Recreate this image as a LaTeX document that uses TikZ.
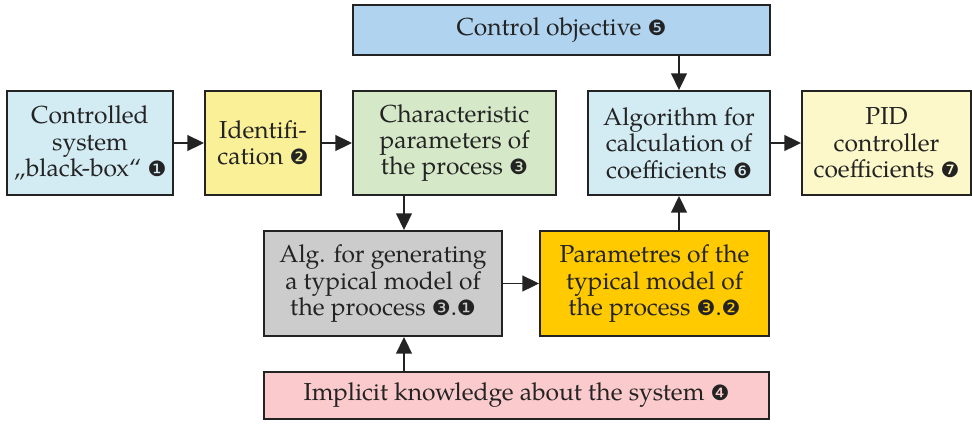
\documentclass[tikz,border=0pt]{standalone}
\usepackage{fontspec}
\setmainfont{texgyrepagella}[Extension=.otf,UprightFont=*-regular]
\newfontfamily\dingfont{DejaVu Sans}
\usetikzlibrary{arrows.meta}

\definecolor{cblue}{RGB}{211,235,243}
\definecolor{cyellow}{RGB}{250,240,152}
\definecolor{cgreen}{RGB}{213,232,200}
\definecolor{cobj}{RGB}{176,211,240}
\definecolor{cpid}{RGB}{252,248,202}
\definecolor{cgray}{RGB}{204,204,204}
\definecolor{cgold}{RGB}{255,202,0}
\definecolor{cpink}{RGB}{250,202,204}
\definecolor{cline}{RGB}{35,35,35}

\newcommand{\nr}[1]{{\dingfont\fontsize{12}{12}\selectfont #1}}

\tikzset{
  box/.style={draw=cline, line width=1.1pt, align=center, text=cline,
    inner sep=0pt, font=\fontsize{14}{15}\selectfont},
  arr/.style={-{Triangle[length=9.5pt,width=9pt]}, line width=0.9pt, cline}
}

\begin{document}
\begin{tikzpicture}
    \useasboundingbox (0,0) rectangle (19.44,-8.48);

    \node [box, fill=cobj, minimum width=8.34cm, minimum height=1.0cm] (obj) at (11.23,-0.60) {Control objective \nr{❺}};

    \node [box, fill=cblue, minimum width=3.32cm, minimum height=2.08cm] (sys) at (1.80,-2.86) {Controlled\\system\\„black-box“ \nr{❶}};
    \node [box, fill=cyellow, minimum width=2.32cm, minimum height=2.08cm] (ident) at (5.26,-2.86) {Identifi-\\cation \nr{❷}};
    \node [box, fill=cgreen, minimum width=4.06cm, minimum height=2.08cm] (char) at (9.09,-2.86) {Characteristic\\parameters of\\the process \nr{❸}};
    \node [box, fill=cblue, minimum width=3.64cm, minimum height=2.08cm] (calc) at (13.58,-2.86) {Algorithm for\\calculation of\\coefficients \nr{❻}};
    \node [box, fill=cpid, minimum width=3.38cm, minimum height=2.08cm] (pid) at (17.73,-2.86) {PID\\controller\\coefficients \nr{❼}};

    \node [box, fill=cgray, minimum width=4.76cm, minimum height=2.10cm] (gen) at (7.66,-5.67) {Alg. for generating\\a typical model of\\the proocess \nr{❸}.\nr{❶}};
    \node [box, fill=cgold, minimum width=4.58cm, minimum height=2.10cm] (par) at (13.09,-5.67) {Parametres of the\\typical model of\\the process \nr{❸}.\nr{❷}};

    \node [box, fill=cpink, minimum width=10.10cm, minimum height=0.94cm] (know) at (10.33,-7.91) {Implicit knowledge about the system \nr{❹}};

    \coordinate (col) at (8.08,0);

    \draw [arr] (sys) -- (ident);
    \draw [arr] (ident) -- (char);
    \draw [arr] (char.south -| col) -- (gen.north -| col);
    \draw [arr] (gen) -- (par);
    \draw [arr] (par.north -| calc.south) -- (calc.south);
    \draw [arr] (obj.south -| calc.north) -- (calc.north);
    \draw [arr] (calc) -- (pid);
    \draw [arr] (know.north -| col) -- (gen.south -| col);
  \end{tikzpicture}
\end{document}
